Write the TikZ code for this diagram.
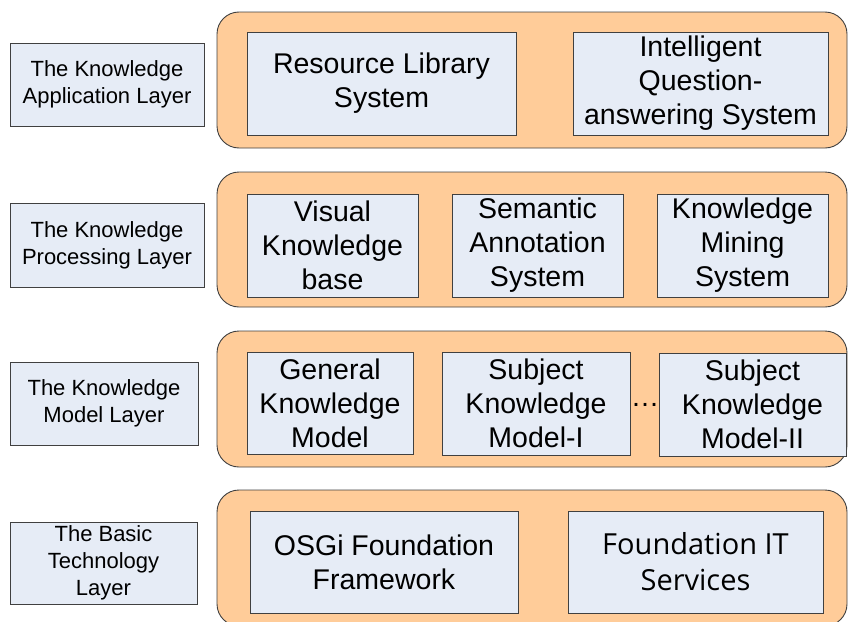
\documentclass[tikz,border=0pt]{standalone}
\usepackage{fontspec}
\setmainfont{Liberation Sans}
\newfontfamily\osans{Open Sans}
\definecolor{boxfill}{RGB}{230,236,246}
\definecolor{orangefill}{RGB}{255,204,153}
\definecolor{edge}{RGB}{64,64,64}
\begin{document}
\begin{tikzpicture}[x=1pt,y=-1pt,
  layerbox/.style={draw=edge, fill=orangefill, rounded corners=22pt, line width=0.9pt, inner sep=0pt},
  inbox/.style={draw=edge, fill=boxfill, line width=0.9pt, align=center, inner sep=0pt, font=\fontsize{28.5}{34}\selectfont},
  lbl/.style={draw=edge, fill=boxfill, line width=0.9pt, align=center, inner sep=0pt, font=\fontsize{22}{26.7}\selectfont}]
\useasboundingbox (0,0) rectangle (848,621);
\clip (0,0) rectangle (848,621);
% layer frames
\node[layerbox, minimum width=630, minimum height=136] (o1) at (532,80) {};
\node[layerbox, minimum width=630, minimum height=135] (o2) at (532,239.5) {};
\node[layerbox, minimum width=630, minimum height=136] (o3) at (532,399) {};
\node[layerbox, minimum width=630, minimum height=136] (o4) at (532,558) {};
% layer labels
\node[lbl, minimum width=194, minimum height=83] (lb1) at (107,84.5) {The Knowledge\\Application Layer};
\node[lbl, minimum width=194, minimum height=84] (lb2) at (107,245) {The Knowledge\\Processing Layer};
\node[lbl, minimum width=188, minimum height=83] (lb3) at (104,403.5) {The Knowledge\\Model Layer};
\node[lbl, minimum width=187, minimum height=82] (lb4) at (103.5,563) {The Basic\\Technology\\Layer};
% application layer
\node[inbox, minimum width=269, minimum height=103] (a1) at (381.5,83.5) {Resource Library\\System};
\node[inbox, minimum width=255, minimum height=103] (a2) at (700.5,83.5) {Intelligent\\Question-\\answering System};
% processing layer
\node[inbox, minimum width=171, minimum height=103] (b1) at (332.5,245.5) {Visual\\Knowledge\\base};
\node[inbox, minimum width=171, minimum height=103] (b2) at (537.5,245.5) {Semantic\\Annotation\\System};
\node[inbox, minimum width=171, minimum height=103] (b3) at (742.5,245.5) {Knowledge\\Mining\\System};
% model layer
\node[inbox, minimum width=166, minimum height=102] (c1) at (330,403) {General\\Knowledge\\Model};
\node[inbox, minimum width=188, minimum height=103] (c2) at (536,403.5) {Subject\\Knowledge\\Model-I};
\node[inbox, minimum width=187, minimum height=103] (c3) at (752.5,404.5) {Subject\\Knowledge\\Model-II};
\node[inner sep=0pt, anchor=base, font=\fontsize{28.5}{34}\selectfont] (dots) at (645,406) {…};
% basic technology layer
\node[inbox, minimum width=268, minimum height=102] (d1) at (384,562) {OSGi Foundation\\Framework};
\node[inbox, minimum width=255, minimum height=102, font=\osans\fontsize{29}{36}\selectfont] (d2) at (695.5,562) {Foundation IT\\Services};
\end{tikzpicture}
\end{document}
